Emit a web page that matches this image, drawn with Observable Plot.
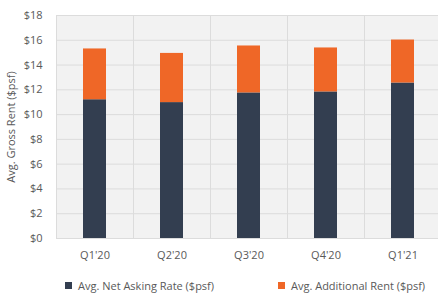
<!DOCTYPE html>
<html>
<head>
<meta charset="utf-8">
<script src="https://cdn.jsdelivr.net/npm/d3@7"></script>
<script src="https://cdn.jsdelivr.net/npm/@observablehq/plot@0.6"></script>
<style>
  body { margin: 0; background: #fff; font-family: "Open Sans", sans-serif; }
  #chart { width: 438px; }
  .legend { position: relative; height: 28px; font-size: 11px; color: #595959; }
  .legend .item { position: absolute; top: 13px; display: flex; align-items: center; white-space: nowrap; }
  .legend .sw { width: 7px; height: 7px; margin-right: 6px; }
</style>
</head>
<body>
<div id="chart"></div>
<script>
const quarters = ["Q1'20", "Q2'20", "Q3'20", "Q4'20", "Q1'21"];
const netAsking = [11.2, 10.97, 11.75, 11.83, 12.55];
const additional = [4.1, 3.97, 3.79, 3.55, 3.47];
const seriesNames = ["Avg. Net Asking Rate ($psf)", "Avg. Additional Rent ($psf)"];
const seriesColors = ["#333e50", "#ef6727"];
const yTicks = [0, 2, 4, 6, 8, 10, 12, 14, 16, 18];
const yLabel = "Avg. Gross Rent ($psf)";

const rows = [];
quarters.forEach((q, i) => {
  rows.push({ q, series: seriesNames[0], value: netAsking[i] });
  rows.push({ q, series: seriesNames[1], value: additional[i] });
});

const step = 77;
const chart = Plot.plot({
  width: 438,
  height: 265,
  marginLeft: 56,
  marginRight: 0,
  marginTop: 15,
  marginBottom: 27,
  style: { fontFamily: "Open Sans, sans-serif", fontSize: "11px", color: "#595959", background: "#fff" },
  x: { domain: quarters, range: [56, 56 + step * quarters.length], paddingInner: 0.7, paddingOuter: 0.35, label: null },
  y: { domain: [0, 18], label: null },
  color: { domain: seriesNames, range: seriesColors },
  marks: [
    Plot.frame({ fill: "#f2f2f2", stroke: null }),
    Plot.ruleY(yTicks, { stroke: "#dcdcdc", strokeWidth: 1 }),
    Plot.ruleX(quarters, { x: d => d, dx: -step / 2, stroke: "#dcdcdc", strokeWidth: 1 }),
    Plot.ruleX(quarters.slice(-1), { x: d => d, dx: step / 2, stroke: "#dcdcdc", strokeWidth: 1 }),
    Plot.barY(rows, { x: "q", y: "value", fill: "series", insetTop: 0, insetBottom: 0 }),
    Plot.axisY({ ticks: yTicks, tickFormat: d => "$" + d, tickSize: 0, tickPadding: 14, label: null, fill: "#595959" }),
    Plot.axisX({ tickSize: 0, tickPadding: 13, label: null, fill: "#595959" }),
    Plot.text([yLabel], { frameAnchor: "left", textAnchor: "middle", rotate: -90, dx: -45, fill: "#595959", fontSize: 11 })
  ]
});
document.getElementById("chart").appendChild(chart);

const legend = document.createElement("div");
legend.className = "legend";
const lefts = [65, 278];
seriesNames.forEach((name, i) => {
  const item = document.createElement("div");
  item.className = "item";
  item.style.left = lefts[i] + "px";
  const sw = document.createElement("span");
  sw.className = "sw";
  sw.style.background = seriesColors[i];
  const t = document.createElement("span");
  t.textContent = name;
  item.appendChild(sw);
  item.appendChild(t);
  legend.appendChild(item);
});
document.getElementById("chart").appendChild(legend);
</script>
</body>
</html>
